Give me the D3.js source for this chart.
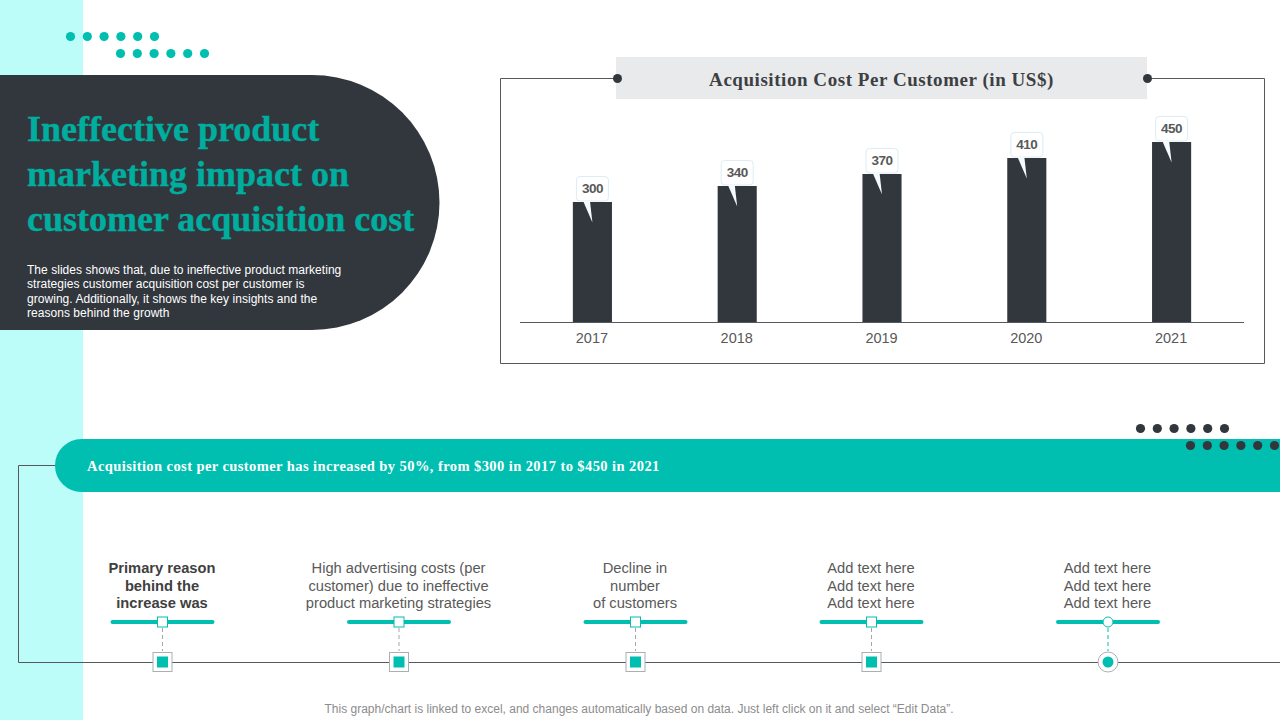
<!DOCTYPE html>
<html>
<head>
<meta charset="utf-8">
<script src="https://cdn.jsdelivr.net/npm/d3@7"></script>
<style>
  html, body { margin: 0; padding: 0; background: #fff; overflow: hidden; }
  svg { display: block; }
  .serif { font-family: "Liberation Serif", serif; font-weight: 700; }
  .sans { font-family: "Liberation Sans", Arial, sans-serif; }
</style>
</head>
<body>
<div id="slide"></div>
<script>
const years = ["2017", "2018", "2019", "2020", "2021"];
const costs = [300, 340, 370, 410, 450];

const titleLines = ["Ineffective product", "marketing impact on", "customer acquisition cost"];
const introLines = [
  "The slides shows that, due to ineffective product marketing",
  "strategies customer acquisition cost per customer is",
  "growing. Additionally, it shows the key insights and the",
  "reasons behind the growth"
];
const chartTitle = "Acquisition Cost Per Customer (in US$)";
const bannerText = "Acquisition cost per customer has increased by 50%, from $300 in 2017 to $450 in 2021";
const footerText = "This graph/chart is linked to excel, and changes automatically based on data. Just left click on it and select \u201CEdit Data\u201D.";
const timelineText = [
  ["Primary reason", "behind the", "increase was"],
  ["High advertising costs (per", "customer) due to ineffective", "product marketing strategies"],
  ["Decline in", "number", "of customers"],
  ["Add text here", "Add text here", "Add text here"],
  ["Add text here", "Add text here", "Add text here"]
];
const timelineX = [162.5, 399, 635.5, 871.5, 1108];

const DARK = "#32373e", TEAL = "#00bfb0", TITLE_TEAL = "#00ae9f", LINE = "#55585c", TEXT = "#595959";

const svg = d3.select("#slide").append("svg")
    .attr("width", 1280)
    .attr("height", 720);

// background strip
svg.append("rect").attr("width", 83).attr("height", 720).attr("fill", "#bdfdf9");

// dot rows
function dotRow(x0, y, n, color) {
  svg.append("g").selectAll("circle")
      .data(d3.range(n))
    .join("circle")
      .attr("cx", i => x0 + i * 16.8)
      .attr("cy", y)
      .attr("r", 4.6)
      .attr("fill", color);
}
dotRow(70.5, 36.5, 6, TEAL);
dotRow(120.5, 53.5, 6, TEAL);

// title panel
svg.append("path")
    .attr("d", "M0,75 H312 A127.5,127.5 0 0 1 312,330 H0 Z")
    .attr("fill", DARK);

svg.append("g").selectAll("text")
    .data(titleLines)
  .join("text")
    .attr("class", "serif")
    .attr("x", 27)
    .attr("y", (d, i) => 141 + i * 45)
    .attr("font-size", 36)
    .attr("fill", TITLE_TEAL)
    .attr("stroke", TITLE_TEAL)
    .attr("stroke-width", 0.4)
    .text(d => d);

svg.append("g").selectAll("text")
    .data(introLines)
  .join("text")
    .attr("class", "sans")
    .attr("x", 27)
    .attr("y", (d, i) => 274 + i * 14.3)
    .attr("font-size", 12)
    .attr("letter-spacing", 0.04)
    .attr("fill", "#fff")
    .text(d => d);

// chart frame
svg.append("path")
    .attr("d", "M617,78.5 H500.5 V363.5 H1264.5 V78.5 H1148")
    .attr("fill", "none")
    .attr("stroke", LINE);
svg.append("rect")
    .attr("x", 616).attr("y", 57)
    .attr("width", 531).attr("height", 42)
    .attr("fill", "#e9eaec");
svg.selectAll("circle.cap")
    .data([617.5, 1147.5])
  .join("circle")
    .attr("class", "cap")
    .attr("cx", d => d).attr("cy", 78.5).attr("r", 4.5)
    .attr("fill", DARK);
svg.append("text")
    .attr("class", "serif")
    .attr("x", 881.5).attr("y", 86)
    .attr("text-anchor", "middle")
    .attr("font-size", 19)
    .attr("letter-spacing", 0.55)
    .attr("fill", "#3d3f43")
    .text(chartTitle);

// bar chart
const x = d3.scaleBand().domain(years).range([520, 1244]).paddingInner(0.73).paddingOuter(0.365);
const y = d3.scaleLinear().domain([0, 500]).range([322, 122]);

const axis = svg.append("g")
    .attr("transform", "translate(-0.5,322)")
    .call(d3.axisBottom(x).tickSize(0).tickPadding(11));
axis.select(".domain").attr("stroke", LINE).attr("stroke-width", 1);
axis.selectAll("text")
    .attr("class", "sans")
    .attr("font-size", 14.5)
    .attr("fill", TEXT);

svg.append("g").selectAll("rect")
    .data(costs)
  .join("rect")
    .attr("x", (d, i) => x(years[i]))
    .attr("y", d => y(d))
    .attr("width", x.bandwidth())
    .attr("height", d => y(0) - y(d))
    .attr("fill", DARK);

// callout labels
const callouts = svg.append("g").selectAll("g")
    .data(costs)
  .join("g")
    .attr("transform", (d, i) => `translate(${x(years[i]) + x.bandwidth() / 2},${y(d)})`);
callouts.append("rect")
    .attr("x", -16).attr("y", -25.5)
    .attr("width", 32).attr("height", 24.5)
    .attr("rx", 3.5)
    .attr("fill", "#fff")
    .attr("stroke", "#dcecf4");
callouts.append("path")
    .attr("d", "M-9.5,-1.5 L0,20.5 L-2.5,-1.5 Z")
    .attr("fill", "#f4fafd");
callouts.append("text")
    .attr("class", "sans")
    .attr("y", -9)
    .attr("text-anchor", "middle")
    .attr("font-size", 13.5)
    .attr("font-weight", 700)
    .attr("letter-spacing", -0.5)
    .attr("fill", TEXT)
    .text(d => d);

// banner
svg.append("path")
    .attr("d", "M1280,439 H81.5 A26.5,26.5 0 0 0 81.5,492 H1280 Z")
    .attr("fill", TEAL);
svg.append("text")
    .attr("class", "serif")
    .attr("x", 87).attr("y", 470.5)
    .attr("font-size", 14.5)
    .attr("letter-spacing", 0.42)
    .attr("fill", "#fff")
    .text(bannerText);
dotRow(1140.5, 428.5, 6, DARK);
dotRow(1190.5, 445.5, 6, DARK);

// timeline
svg.append("path")
    .attr("d", "M55,465.5 H18.5 V662.5 H1280")
    .attr("fill", "none")
    .attr("stroke", LINE);

const steps = svg.append("g").selectAll("g")
    .data(timelineX)
  .join("g")
    .attr("transform", d => `translate(${d},0)`);

steps.append("line")
    .attr("x1", -50).attr("x2", 50)
    .attr("y1", 622).attr("y2", 622)
    .attr("stroke", TEAL)
    .attr("stroke-width", 4)
    .attr("stroke-linecap", "round");
steps.append("line")
    .attr("y1", 628).attr("y2", 651)
    .attr("stroke", (d, i) => i === 4 ? TEAL : "#a6a6a6")
    .attr("stroke-dasharray", "4 3");

steps.each(function(d, i) {
  const g = d3.select(this);
  if (i < 4) {
    g.append("rect")
        .attr("x", -5).attr("y", 617).attr("width", 10).attr("height", 10)
        .attr("fill", "#fff").attr("stroke", TEAL);
    g.append("rect")
        .attr("x", -9.5).attr("y", 652.5).attr("width", 19).attr("height", 19)
        .attr("fill", "#fff").attr("stroke", "#a9b0b5");
    g.append("rect")
        .attr("x", -5.5).attr("y", 656.5).attr("width", 11).attr("height", 11)
        .attr("fill", TEAL);
  } else {
    g.append("circle")
        .attr("cy", 622).attr("r", 5)
        .attr("fill", "#fff").attr("stroke", TEAL);
    g.append("circle")
        .attr("cy", 662).attr("r", 10)
        .attr("fill", "#fff").attr("stroke", "#a9b0b5");
    g.append("circle")
        .attr("cy", 662).attr("r", 5.5)
        .attr("fill", TEAL);
  }
});

steps.each(function(d, i) {
  d3.select(this).selectAll("text")
      .data(timelineText[i])
    .join("text")
      .attr("class", "sans")
      .attr("x", -0.5)
      .attr("y", (t, j) => 573 + j * 17.6)
      .attr("text-anchor", "middle")
      .attr("font-size", 14.7)
      .attr("font-weight", i === 0 ? 700 : 400)
      .attr("fill", i === 0 ? "#404040" : TEXT)
      .text(t => t);
});

// footer
svg.append("text")
    .attr("class", "sans")
    .attr("x", 639).attr("y", 713)
    .attr("text-anchor", "middle")
    .attr("font-size", 12)
    .attr("fill", "#8c8c8c")
    .text(footerText);
</script>
</body>
</html>
